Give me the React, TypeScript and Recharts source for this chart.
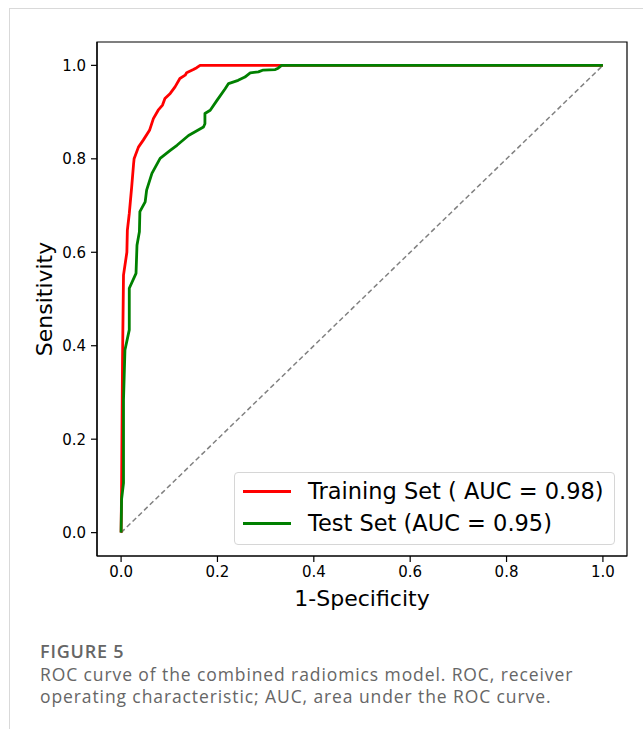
import React from 'react';
import { LineChart, Line, XAxis, YAxis, ReferenceArea } from 'recharts';

const trainFpr = [0, 0.001, 0.003, 0.005, 0.012, 0.013, 0.017, 0.022, 0.026, 0.027, 0.036, 0.046, 0.059, 0.067, 0.077, 0.086, 0.091, 0.102, 0.112, 0.122, 0.133, 0.136, 0.150, 0.157, 0.164, 1.0];
const trainTpr = [0, 0.09, 0.37, 0.551, 0.60, 0.647, 0.683, 0.74, 0.79, 0.80, 0.825, 0.84, 0.861, 0.886, 0.904, 0.915, 0.929, 0.94, 0.954, 0.972, 0.979, 0.984, 0.991, 0.995, 1.0, 1.0];

const testFpr = [0, 0.001, 0.005, 0.005, 0.008, 0.017, 0.017, 0.031, 0.033, 0.038, 0.039, 0.05, 0.053, 0.064, 0.081, 0.102, 0.116, 0.14, 0.171, 0.174, 0.174, 0.185, 0.199, 0.216, 0.223, 0.243, 0.257, 0.268, 0.285, 0.295, 0.32, 0.326, 0.333, 1.0];
const testTpr = [0, 0.071, 0.106, 0.284, 0.391, 0.434, 0.523, 0.555, 0.615, 0.644, 0.687, 0.708, 0.733, 0.769, 0.801, 0.818, 0.829, 0.85, 0.868, 0.875, 0.897, 0.904, 0.925, 0.95, 0.961, 0.968, 0.975, 0.984, 0.986, 0.99, 0.991, 0.994, 1.0, 1.0];

const chanceX = [0, 1];
const chanceY = [0, 1];

const ticks = [0, 0.2, 0.4, 0.6, 0.8, 1.0];
const seriesNames = ['Training Set ( AUC = 0.98)', 'Test Set (AUC = 0.95)'];
const seriesColors = ['#ff0000', '#008000'];

const toPts = (xs: number[], ys: number[]) => xs.map((x, i) => ({ x, y: ys[i] }));
const trainData = toPts(trainFpr, trainTpr);
const testData = toPts(testFpr, testTpr);
const chanceData = toPts(chanceX, chanceY);

const FONT = '"DejaVu Sans", sans-serif';
const CAP_FONT = '"Open Sans", sans-serif';

const LegendBox = () => (
  <div
    style={{
      position: 'absolute',
      left: 234,
      top: 472,
      width: 381,
      height: 73,
      boxSizing: 'border-box',
      border: '1px solid #d6d6d6',
      borderRadius: 4,
      background: 'rgba(255,255,255,0.8)',
      fontFamily: FONT,
      fontSize: 22.5,
      color: '#000',
    }}
  >
    {seriesNames.map((n, i) => (
      <div key={n} style={{ position: 'absolute', left: 8, top: 3 + i * 32, height: 30, display: 'flex', alignItems: 'center' }}>
        <div style={{ width: 48, height: 3, background: seriesColors[i] }} />
        <span style={{ marginLeft: 17, whiteSpace: 'nowrap' }}>{n}</span>
      </div>
    ))}
  </div>
);

export default function App() {
  return (
    <div style={{ position: 'absolute', left: 0, top: 0, width: 643, height: 729, background: '#fff', overflow: 'hidden' }}>
      <div style={{ position: 'absolute', left: 9, top: 8, width: 634, height: 1, background: '#d9d9d9' }} />
      <div style={{ position: 'absolute', left: 9, top: 8, width: 1, height: 721, background: '#d9d9d9' }} />
      <LineChart width={643} height={729} margin={{ top: 42, left: 37, right: 16, bottom: 143 }}>
        <XAxis
          type="number"
          dataKey="x"
          domain={[-0.05, 1.05]}
          ticks={ticks}
          tickFormatter={(v: number) => v.toFixed(1)}
          height={30}
          allowDataOverflow
          axisLine={{ stroke: '#000', strokeWidth: 1.2 }}
          tickLine={{ stroke: '#000', strokeWidth: 1.2 }}
          tickSize={6}
          tickMargin={4}
          tick={{ fill: '#000', fontSize: 15, fontFamily: FONT }}
          label={{
            content: () => (
              <text x={362} y={606} textAnchor="middle" fontSize={22} fontFamily={FONT} fill="#000">1-Specificity</text>
            ),
          }}
        />
        <YAxis
          type="number"
          dataKey="y"
          domain={[-0.05, 1.05]}
          ticks={ticks}
          tickFormatter={(v: number) => v.toFixed(1)}
          width={60}
          allowDataOverflow
          axisLine={{ stroke: '#000', strokeWidth: 1.2 }}
          tickLine={{ stroke: '#000', strokeWidth: 1.2 }}
          tickSize={6}
          tickMargin={5}
          tick={{ fill: '#000', fontSize: 15, fontFamily: FONT }}
          label={{
            content: () => (
              <text transform="translate(52,299) rotate(-90)" textAnchor="middle" fontSize={22} fontFamily={FONT} fill="#000">Sensitivity</text>
            ),
          }}
        />
        <ReferenceArea x1={-0.05} x2={1.05} y1={-0.05} y2={1.05} fill="none" stroke="#000" strokeWidth={1.2} fillOpacity={0} />
        <Line data={chanceData} dataKey="y" stroke="#808080" strokeWidth={1.5} strokeDasharray="5 3" dot={false} isAnimationActive={false} legendType="none" />
        <Line data={trainData} dataKey="y" name={seriesNames[0]} stroke={seriesColors[0]} strokeWidth={2.8} dot={false} isAnimationActive={false} strokeLinejoin="round" />
        <Line data={testData} dataKey="y" name={seriesNames[1]} stroke={seriesColors[1]} strokeWidth={2.8} dot={false} isAnimationActive={false} strokeLinejoin="round" />
      </LineChart>
      <LegendBox />
      <div style={{ position: 'absolute', left: 40, top: 639, fontFamily: CAP_FONT, fontSize: 18, fontWeight: 600, color: '#666', letterSpacing: 0.8 }}>FIGURE 5</div>
      <div style={{ position: 'absolute', left: 40, top: 663, width: 600, fontFamily: CAP_FONT, fontSize: 17.5, lineHeight: '22px', color: '#666', letterSpacing: 0.9, whiteSpace: 'nowrap' }}>
        ROC curve of the combined radiomics model. ROC, receiver<br />operating characteristic; AUC, area under the ROC curve.
      </div>
    </div>
  );
}
